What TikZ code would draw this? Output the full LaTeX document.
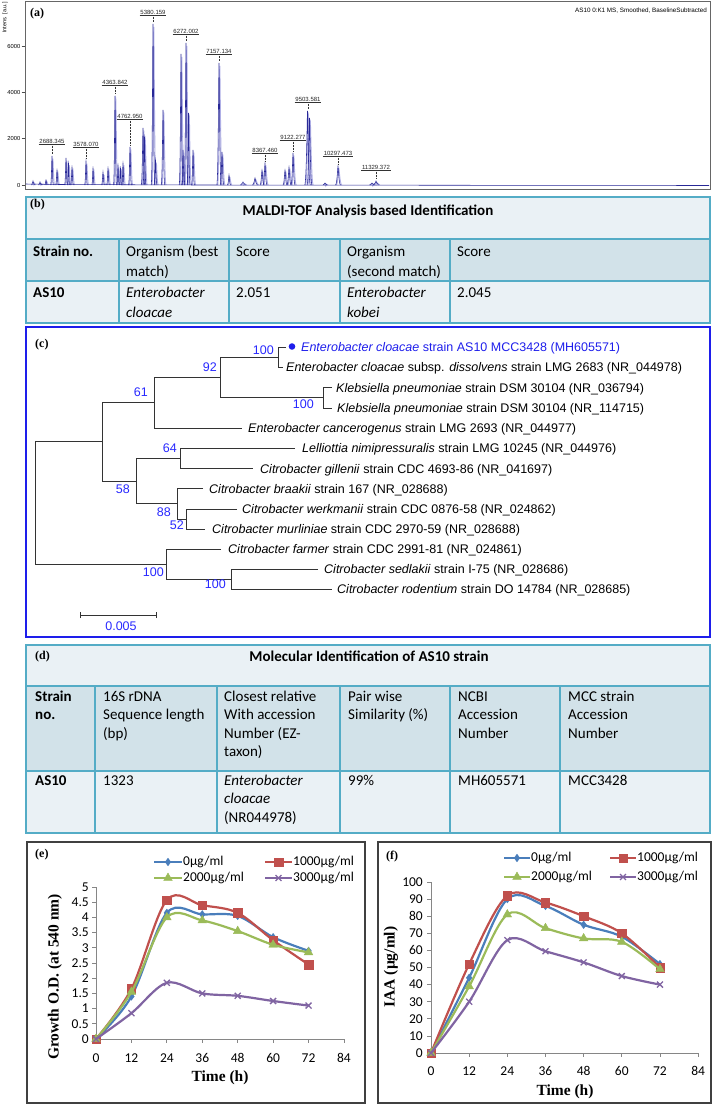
\documentclass[tikz,border=0pt]{standalone}
\usepackage{fontspec}
\setmainfont{Carlito}
\newfontfamily\arialf{Liberation Sans}
\newfontfamily\timesf{Liberation Serif}
\usetikzlibrary{plotmarks}
\definecolor{spec}{RGB}{40,40,150}
\definecolor{spech}{RGB}{175,175,230}
\definecolor{tbline}{RGB}{84,172,198}
\definecolor{tlight}{RGB}{234,241,245}
\definecolor{thead}{RGB}{210,226,233}
\definecolor{treeblue}{RGB}{30,30,235}
\definecolor{bootblue}{RGB}{40,40,255}
\definecolor{c0}{RGB}{74,126,187}
\definecolor{c1}{RGB}{192,80,77}
\definecolor{c2}{RGB}{155,187,89}
\definecolor{c3}{RGB}{128,100,162}
\definecolor{axisgray}{RGB}{134,134,134}
\begin{document}
\begin{tikzpicture}[x=1pt,y=-1pt,
  panellab/.style={font=\timesf\bfseries\fontsize{12}{14}\selectfont, inner sep=0, anchor=west},
  pklab/.style={font=\arialf\fontsize{6}{7}\selectfont, inner sep=0.7pt, text=black!85},
  specline/.style={draw=spec, line width=0.55pt},
  spechalo/.style={draw=spech, line width=0.9pt},
  cellb/.style={font=\fontsize{15}{20}\selectfont, inner sep=0, anchor=north west, align=left},
  celld/.style={font=\fontsize{15}{18.5}\selectfont, inner sep=0, anchor=north west, align=left},
  tbl/.style={draw=tbline, line width=1.1pt},
  leaf/.style={font=\arialf\fontsize{12.5}{14}\selectfont, inner sep=0, anchor=base west},
  boot/.style={font=\arialf\fontsize{12.5}{14}\selectfont, text=bootblue, inner sep=0, anchor=base east},
  br/.style={draw=black!80, line width=0.9pt},
  ticklab/.style={font=\fontsize{13.5}{15}\selectfont, inner sep=0},
  axtitle/.style={font=\timesf\bfseries\fontsize{15.5}{17}\selectfont, inner sep=0},
  axl/.style={draw=axisgray, line width=0.8pt},
  chartframe/.style={draw=black!75, line width=1.2pt},
  leg/.style={font=\fontsize{13.5}{15}\selectfont, inner sep=0, anchor=west},
  ser0/.style={draw=c0, line width=2.2pt},
  ser1/.style={draw=c1, line width=2.2pt},
  ser2/.style={draw=c2, line width=2.2pt},
  ser3/.style={draw=c3, line width=2.2pt},
  mk0/.style={only marks, mark=diamond*, mark size=3.8pt, mark options={fill=c0, draw=c0}},
  mk1/.style={only marks, mark=square*, mark size=4.2pt, mark options={fill=c1, draw=c1}},
  mk2/.style={only marks, mark=triangle*, mark size=5pt, mark options={fill=c2, draw=c2}},
  mk3/.style={only marks, mark=x, mark size=4.2pt, mark options={draw=c3, line width=1.3pt}},
]
\useasboundingbox (0,0) rectangle (713,1104);

% ================= (a) spectrum =================
\draw[draw=black!60, line width=0.8pt] (25,1) rectangle (710,189);
\node[panellab] (alab) at (30,14) {(a)};
\node[font=\arialf\fontsize{6.3}{7}\selectfont, inner sep=0, anchor=east] (ainfo) at (707,11) {AS10 0:K1 MS, Smoothed, BaselineSubtracted};
\node[font=\arialf\fontsize{5.5}{6}\selectfont, inner sep=0, rotate=90, anchor=east] (aylab) at (5,2) {Intens. [a.u.]};
\foreach \v/\l in {46/6000,92/4000,138/2000,185/0} {
  \draw[black!70, line width=0.5pt] (21.5,\v) -- (25,\v);
  \node[font=\arialf\fontsize{5.8}{6}\selectfont, inner sep=0, anchor=east] at (20.5,\v) {\l};
}
\def\peaklist{33/181/1.5, 40/182/1.5, 46/180/1.2, 52/156/1.4, 57/170/1.4, 66/158/1.4, 68.5/163/1.2, 72/167/1.4, 86/161/1.4, 93/168/1.2, 103/172/1.4, 108/168/1.4, 115/96/1.5, 118/165/1.2, 120.5/168/1.2, 123/163/1.2, 130/147/1.5, 143/128/1.8, 144.5/137/1.5, 153/24/1.8, 155.5/160/1.5, 163/110/1.8, 181/54/1.8, 183/150/1.5, 186/43/1.8, 188.5/113/1.5, 193/150/1.5, 219/63/2.2, 222/152/1.8, 229/175/1.5, 243/182/2.5, 255/178/2.5, 262/170/2, 265/163/2, 285/170/2, 289/167/2, 293/153/2, 307.5/111/2.8, 309.5/118/2.5, 325/183/2, 338/166/2.5, 372/183/2.5, 376/181/2.5}
\foreach \x/\t/\w in \peaklist {
  \draw[spechalo] ({\x-\w+0.8},185) .. controls ({\x-0.35*\w+0.8},184.5) and ({\x+0.5},\t) .. ({\x+0.8},{\t+3}) .. controls ({\x+1.1},\t) and ({\x+0.35*\w+1},184.5) .. ({\x+\w+1.2},185);
}
\draw[specline] (26,184) -- (60,184.5) -- (200,185) -- (400,185.2) -- (709,185.5);
\foreach \x/\t/\w in \peaklist {
  \draw[specline] ({\x-\w},185) .. controls ({\x-0.35*\w},184.5) and ({\x-0.3},\t) .. (\x,\t) .. controls ({\x+0.3},\t) and ({\x+0.35*\w},184.5) .. ({\x+\w},185);
}
\foreach \x/\y/\t/\l [count=\i] in {52/141/156/2688.345, 86/144/161/3578.070, 115/82/96/4363.842, 130/116/147/4762.950, 153/12/24/5380.159, 186/31/43/6272.002, 219/51/63/7157.134, 265/150/163/8367.460, 293/137/153/9122.277, 308/99/111/9503.581, 338/153/166/10297.473, 376/167/180/11329.372} {
  \node[pklab] (pk\i) at (\x,\y) {\l};
  \draw[black!80, line width=0.6pt] (pk\i.south west) -- (pk\i.south east);
  \draw[black!80, line width=0.5pt, densely dotted] (pk\i.south) -- (\x,{\t-2});
}

% ================= (b) table =================
\fill[tlight] (26,197) rectangle (710,323);
\fill[thead] (26,239) rectangle (710,281);
\draw[tbl] (26,197) rectangle (710,323);
\draw[tbl] (26,239) -- (710,239);
\draw[tbl] (26,281) -- (710,281);
\foreach \x in {119,229,340,450} \draw[tbl] (\x,239) -- (\x,323);
\node[panellab] (blab) at (30,205) {(b)};
\node[font=\bfseries\fontsize{15}{18}\selectfont, inner sep=0, anchor=base] (btitle) at (368,215) {MALDI-TOF Analysis based Identification};
\node[cellb] (b11) at (33,242) {\strut\textbf{Strain no.}};
\node[cellb] (b12) at (126,242) {\strut Organism (best\\match)};
\node[cellb] (b13) at (236,242) {\strut Score};
\node[cellb] (b14) at (347,242) {\strut Organism\\(second match)};
\node[cellb] (b15) at (457,242) {\strut Score};
\node[cellb] (b21) at (33,283) {\strut\textbf{AS10}};
\node[cellb] (b22) at (126,283) {\strut\textit{Enterobacter}\\\textit{cloacae}};
\node[cellb] (b23) at (236,283) {\strut 2.051};
\node[cellb] (b24) at (347,283) {\strut\textit{Enterobacter}\\\textit{kobei}};
\node[cellb] (b25) at (457,283) {\strut 2.045};

% ================= (c) tree =================
\draw[treeblue, line width=1.5pt] (26,327) rectangle (710,637);
\node[panellab] (clab) at (35,345) {(c)};
\fill[treeblue] (292,346.5) circle (3.3);
\node[leaf, text=treeblue] (l1) at (301,351.5) {\textit{Enterobacter cloacae} strain AS10 MCC3428 (MH605571)};
\node[leaf] (l2) at (286,371.5) {\textit{Enterobacter cloacae} subsp. \textit{dissolvens} strain LMG 2683 (NR\_044978)};
\node[leaf] (l3) at (336,392) {\textit{Klebsiella pneumoniae} strain DSM 30104 (NR\_036794)};
\node[leaf] (l4) at (337,412.5) {\textit{Klebsiella pneumoniae} strain DSM 30104 (NR\_114715)};
\node[leaf] (l5) at (248,432.5) {\textit{Enterobacter cancerogenus} strain LMG 2693 (NR\_044977)};
\node[leaf] (l6) at (302,452.5) {\textit{Lelliottia nimipressuralis} strain LMG 10245 (NR\_044976)};
\node[leaf] (l7) at (260,473) {\textit{Citrobacter gillenii} strain CDC 4693-86 (NR\_041697)};
\node[leaf] (l8) at (209,493) {\textit{Citrobacter braakii} strain 167 (NR\_028688)};
\node[leaf] (l9) at (242,513.5) {\textit{Citrobacter werkmanii} strain CDC 0876-58 (NR\_024862)};
\node[leaf] (l10) at (212,533.5) {\textit{Citrobacter murliniae} strain CDC 2970-59 (NR\_028688)};
\node[leaf] (l11) at (228,553.5) {\textit{Citrobacter farmer} strain CDC 2991-81 (NR\_024861)};
\node[leaf] (l12) at (324,573.5) {\textit{Citrobacter sedlakii} strain I-75 (NR\_028686)};
\node[leaf] (l13) at (337,593.5) {\textit{Citrobacter rodentium} strain DO 14784 (NR\_028685)};
% branches
\draw[br] (286,347) -- (278,347) -- (278,367) -- (283,367);
\draw[br] (332,387.5) -- (323,387.5) -- (323,408) -- (332,408);
\draw[br] (278,357) -- (220,357) -- (220,397.75) -- (323,397.75);
\draw[br] (220,377.4) -- (154,377.4) -- (154,428) -- (242,428);
\draw[br] (154,402.7) -- (102,402.7) -- (102,481) -- (136,481);
\draw[br] (180,458.25) -- (136,458.25) -- (136,503.75) -- (177,503.75);
\draw[br] (295,448) -- (180,448) -- (180,468.5) -- (253,468.5);
\draw[br] (203,488.5) -- (177,488.5) -- (177,519) -- (186,519);
\draw[br] (237,509) -- (186,509) -- (186,529) -- (205,529);
\draw[br] (102,441.85) -- (35,441.85) -- (35,564) -- (166,564);
\draw[br] (221,549) -- (166,549) -- (166,579) -- (231,579);
\draw[br] (318,569) -- (231,569) -- (231,589) -- (332,589);
% bootstrap values
\node[boot] (bs1) at (274,354.5) {100};
\node[boot] (bs2) at (217,371.5) {92};
\node[boot] (bs3) at (148,396) {61};
\node[boot] (bs4) at (314,408.5) {100};
\node[boot] (bs5) at (177,452.5) {64};
\node[boot] (bs6) at (130,493.5) {58};
\node[boot] (bs7) at (171,516.5) {88};
\node[boot] (bs8) at (184,529.5) {52};
\node[boot] (bs9) at (164,576.5) {100};
\node[boot] (bs10) at (226,588.5) {100};
% scale bar
\coordinate (sbl) at (80,615);
\coordinate (sbr) at (156,615);
\draw[br] (sbl) -- (sbr);
\draw[br] ([yshift=-3pt]sbl) -- ([yshift=3pt]sbl);
\draw[br] ([yshift=-3pt]sbr) -- ([yshift=3pt]sbr);
\node[font=\arialf\fontsize{12.5}{14}\selectfont, text=bootblue, inner sep=0] (sblab) at (121,626) {0.005};

% ================= (d) table =================
\fill[tlight] (26,645) rectangle (710,833);
\fill[thead] (26,686) rectangle (710,771);
\draw[tbl] (26,645) rectangle (710,833);
\draw[tbl] (26,686) -- (710,686);
\draw[tbl] (26,771) -- (710,771);
\foreach \x in {95,217,340,450,560} \draw[tbl] (\x,686) -- (\x,833);
\node[panellab] (dlab) at (35,657) {(d)};
\node[font=\bfseries\fontsize{15}{18}\selectfont, inner sep=0, anchor=base] (dtitle) at (369,661) {Molecular Identification of AS10 strain};
\node[celld] (d11) at (35,688) {\strut\textbf{Strain}\\\textbf{no.}};
\node[celld] (d12) at (103,688) {\strut 16S rDNA\\Sequence length\\(bp)};
\node[celld] (d13) at (224,688) {\strut Closest relative\\With accession\\Number (EZ-\\taxon)};
\node[celld] (d14) at (348,688) {\strut Pair wise\\Similarity (\%)};
\node[celld] (d15) at (458,688) {\strut NCBI\\Accession\\Number};
\node[celld] (d16) at (568,688) {\strut MCC strain\\Accession\\Number};
\node[celld] (d21) at (35,772) {\strut\textbf{AS10}};
\node[celld] (d22) at (103,772) {\strut 1323};
\node[celld] (d23) at (224,772) {\strut\textit{Enterobacter}\\\textit{cloacae}\\(NR044978)};
\node[celld] (d24) at (348,772) {\strut 99\%};
\node[celld] (d25) at (458,772) {\strut MH605571};
\node[celld] (d26) at (568,772) {\strut MCC3428};

% ================= (e) growth chart =================
\draw[chartframe] (27,842) rectangle (365,1103);
\node[panellab] (elab) at (35,855) {(e)};
\draw[axl] (96,887) -- (96,1039) -- (345,1039);
\foreach \v/\l in {0/0,0.5/0.5,1/1,1.5/1.5,2/2,2.5/2.5,3/3,3.5/3.5,4/4,4.5/4.5,5/5} {
  \draw[axl] (92,{1039-\v*30.4}) -- (96,{1039-\v*30.4});
  \node[ticklab, anchor=east] at (89,{1039-\v*30.4}) {\l};
}
\foreach \t in {0,12,...,84} {
  \draw[axl] ({96+\t*2.952},1039) -- ({96+\t*2.952},1043);
  \node[ticklab] at ({96+\t*2.952},1058) {\t};
}
\node[axtitle, rotate=90] (eyt) at (55,977) {Growth O.D. (at 540 nm)};
\node[axtitle] (ext) at (220,1078) {Time (h)};
\begin{scope}[shift={(96,1039)}, x=2.952pt, y=30.4pt]
  \draw[ser0] plot[smooth, tension=0.55] coordinates {(0,0) (12,1.4) (24,4.15) (36,4.1) (48,4.05) (60,3.35) (72,2.9)};
  \draw plot[mk0] coordinates {(0,0) (12,1.4) (24,4.15) (36,4.1) (48,4.05) (60,3.35) (72,2.9)};
  \draw[ser1] plot[smooth, tension=0.55] coordinates {(0,0) (12,1.65) (24,4.57) (36,4.4) (48,4.15) (60,3.25) (72,2.45)};
  \draw plot[mk1] coordinates {(0,0) (12,1.65) (24,4.57) (36,4.4) (48,4.15) (60,3.25) (72,2.45)};
  \draw[ser2] plot[smooth, tension=0.55] coordinates {(0,0) (12,1.55) (24,4.0) (36,3.9) (48,3.55) (60,3.1) (72,2.85)};
  \draw plot[mk2] coordinates {(0,0) (12,1.55) (24,4.0) (36,3.9) (48,3.55) (60,3.1) (72,2.85)};
  \draw[ser3] plot[smooth, tension=0.55] coordinates {(0,0) (12,0.85) (24,1.85) (36,1.5) (48,1.42) (60,1.25) (72,1.1)};
  \draw plot[mk3] coordinates {(0,0) (12,0.85) (24,1.85) (36,1.5) (48,1.42) (60,1.25) (72,1.1)};
\end{scope}
\draw[ser0] (154,862) -- (182,862);
\draw plot[mk0] coordinates {(168,862)};
\node[leg] (eleg0) at (183,862) {0µg/ml};
\draw[ser1] (265,862) -- (292,862);
\draw plot[mk1] coordinates {(278.5,862)};
\node[leg] (eleg1) at (293,862) {1000µg/ml};
\draw[ser2] (154,878) -- (182,878);
\draw plot[mk2] coordinates {(168,878)};
\node[leg] (eleg2) at (183,878) {2000µg/ml};
\draw[ser3] (265,878) -- (292,878);
\draw plot[mk3] coordinates {(278.5,878)};
\node[leg] (eleg3) at (293,878) {3000µg/ml};

% ================= (f) IAA chart =================
\draw[chartframe] (378,842) rectangle (711,1103);
\node[panellab] (flab) at (386,857) {(f)};
\draw[axl] (431,882) -- (431,1053) -- (698,1053);
\foreach \v in {0,10,...,100} {
  \draw[axl] (427,{1053-\v*1.71}) -- (431,{1053-\v*1.71});
  \node[ticklab, anchor=east] at (423,{1053-\v*1.71}) {\v};
}
\foreach \t in {0,12,...,84} {
  \draw[axl] ({431+\t*3.18},1053) -- ({431+\t*3.18},1057);
  \node[ticklab] at ({431+\t*3.18},1071) {\t};
}
\node[axtitle, rotate=90] (fyt) at (391,967) {IAA (µg/ml)};
\node[axtitle] (fxt) at (565,1092) {Time (h)};
\begin{scope}[shift={(431,1053)}, x=3.18pt, y=1.71pt]
  \draw[ser0] plot[smooth, tension=0.55] coordinates {(0,0) (12,44) (24,90) (36,86) (48,75) (60,68) (72,52)};
  \draw plot[mk0] coordinates {(0,0) (12,44) (24,90) (36,86) (48,75) (60,68) (72,52)};
  \draw[ser1] plot[smooth, tension=0.55] coordinates {(0,0) (12,52) (24,92) (36,88) (48,80) (60,70) (72,50)};
  \draw plot[mk1] coordinates {(0,0) (12,52) (24,92) (36,88) (48,80) (60,70) (72,50)};
  \draw[ser2] plot[smooth, tension=0.55] coordinates {(0,0) (12,39) (24,81) (36,73) (48,67) (60,65) (72,49)};
  \draw plot[mk2] coordinates {(0,0) (12,39) (24,81) (36,73) (48,67) (60,65) (72,49)};
  \draw[ser3] plot[smooth, tension=0.55] coordinates {(0,0) (12,30) (24,66) (36,59.5) (48,53) (60,45) (72,40)};
  \draw plot[mk3] coordinates {(0,0) (12,30) (24,66) (36,59.5) (48,53) (60,45) (72,40)};
\end{scope}
\draw[ser0] (504,858) -- (530,858);
\draw plot[mk0] coordinates {(517,858)};
\node[leg] (fleg0) at (531,858) {0µg/ml};
\draw[ser1] (610,858) -- (636,858);
\draw plot[mk1] coordinates {(623,858)};
\node[leg] (fleg1) at (637,858) {1000µg/ml};
\draw[ser2] (504,877) -- (530,877);
\draw plot[mk2] coordinates {(517,877)};
\node[leg] (fleg2) at (531,877) {2000µg/ml};
\draw[ser3] (610,877) -- (636,877);
\draw plot[mk3] coordinates {(623,877)};
\node[leg] (fleg3) at (637,877) {3000µg/ml};
\end{tikzpicture}
\end{document}
